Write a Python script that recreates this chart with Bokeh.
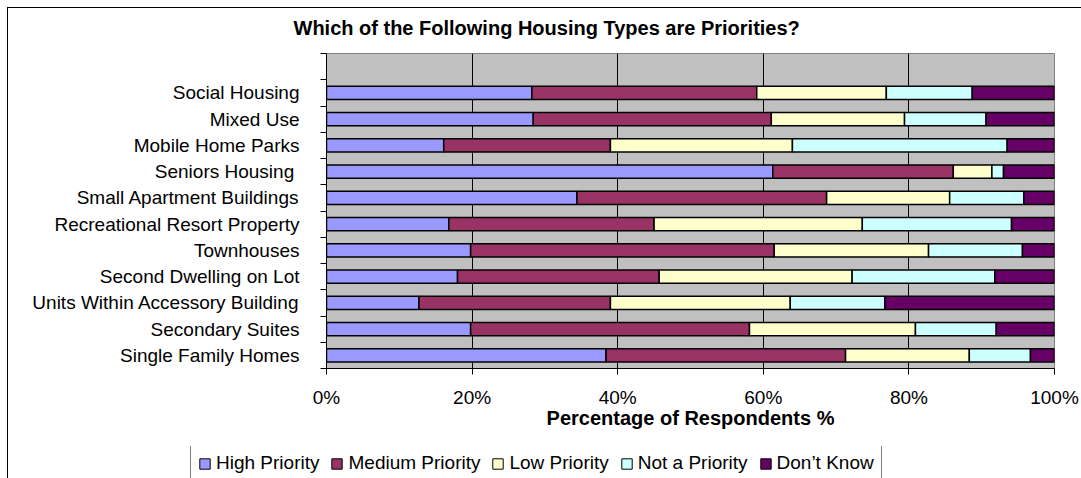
from bokeh.plotting import figure
from bokeh.models import (ColumnDataSource, Range1d, FixedTicker, Legend, Title,
                          LegendItem, PrintfTickFormatter, InlineStyleSheet)
from bokeh.embed import file_html
from bokeh.resources import INLINE

# ---- data (bottom to top) ----
categories = ["Single Family Homes", "Secondary Suites", "Units Within Accessory Building",
              "Second Dwelling on Lot", "Townhouses", "Recreational Resort Property",
              "Small Apartment Buildings", "Seniors Housing ", "Mobile Home Parks",
              "Mixed Use", "Social Housing"]
high_priority   = [38.4, 19.8, 12.7, 18.0, 19.8, 16.8, 34.4, 61.3, 16.1, 28.4, 28.2]
medium_priority = [32.9, 38.3, 26.3, 27.7, 41.7, 28.2, 34.3, 24.8, 22.9, 32.7, 30.9]
low_priority    = [17.0, 22.8, 24.7, 26.5, 21.2, 28.6, 16.9, 5.3, 25.0, 18.3, 17.8]
not_priority    = [8.4, 11.1, 13.0, 19.6, 12.9, 20.5, 10.2, 1.6, 29.5, 11.2, 11.8]
dont_know       = [3.3, 8.0, 23.3, 8.2, 4.4, 5.9, 4.2, 7.0, 6.5, 9.4, 11.3]
series_names = ["High Priority", "Medium Priority", "Low Priority", "Not a Priority", "Don\u2019t Know"]
series_keys = ["high", "medium", "low", "notp", "dk"]
colors = ["#9999FF", "#993366", "#FFFFCC", "#CCFFFF", "#660066"]
x_ticks = [0, 20, 40, 60, 80, 100]
title_text = "Which of the Following Housing Types are Priorities?"
x_title = "Percentage of Respondents %"

pos = list(range(len(categories)))
source = ColumnDataSource(dict(y=pos, high=high_priority, medium=medium_priority,
                               low=low_priority, notp=not_priority, dk=dont_know))

FONT = "Liberation Sans"

p = figure(frame_width=728, frame_height=315,
           x_range=Range1d(0, 100), y_range=Range1d(-0.5, len(categories) + 0.5),
           output_backend="svg", toolbar_location=None,
           min_border_left=326, min_border_right=27, min_border_top=53, min_border_bottom=78,
           background_fill_color="#C0C0C0", border_fill_color="white",
           outline_line_color="#808080", outline_line_width=1)
p.title.visible = False
p.stylesheets = [InlineStyleSheet(css=""":host::after { content: ''; position: absolute;
  left: 7px; top: 7px; width: 1200px; height: 600px; border: 1px solid black;
  pointer-events: none; box-sizing: border-box; z-index: 10; }""")]

renderers = p.hbar_stack(series_keys, y="y", height=0.5, source=source,
                         fill_color=colors, line_color="black", line_width=1.5)

# x axis
xa = p.xaxis[0]
xa.ticker = FixedTicker(ticks=x_ticks)
xa.formatter = PrintfTickFormatter(format="%d%%")
xa.axis_line_color = "black"
xa.major_tick_in = 0
xa.major_tick_out = 6
xa.minor_tick_out = 0
xa.minor_tick_in = 0
xa.major_label_text_font = FONT
xa.major_label_text_font_size = "19px"
xa.major_label_text_color = "black"
xa.major_label_standoff = 12
xa.axis_label = x_title
xa.axis_label_text_font = FONT
xa.axis_label_text_font_size = "20px"
xa.axis_label_text_font_style = "bold"
xa.axis_label_text_color = "black"
xa.axis_label_standoff = -4

# y axis
ya = p.yaxis[0]
ya.ticker = FixedTicker(ticks=pos, minor_ticks=[i - 0.5 for i in range(len(categories) + 2)])
ya.major_label_overrides = {i: c for i, c in zip(pos, categories)}
ya.axis_line_color = "black"
ya.major_tick_in = 0
ya.major_tick_out = 0
ya.minor_tick_in = 0
ya.minor_tick_out = 6
ya.minor_tick_line_color = "black"
ya.major_label_text_font = FONT
ya.major_label_text_font_size = "19px"
ya.major_label_text_color = "black"
ya.major_label_standoff = 21

p.xgrid.ticker = FixedTicker(ticks=x_ticks)
p.xgrid.grid_line_color = "black"
p.xgrid.grid_line_width = 1
p.ygrid.grid_line_color = None

# title
p.add_layout(Title(text=title_text, align="left", offset=-33, standoff=29,
                   text_font=FONT, text_font_size="20px", text_font_style="bold",
                   text_color="black"), "above")

# ---- legend strip (separate root so it is neither clipped nor frame-aligned) ----
lg = figure(width=1081, height=32, x_range=Range1d(0, 1), y_range=Range1d(100, 101),
            x_axis_type=None, y_axis_type=None, output_backend="svg", toolbar_location=None,
            min_border_left=0, min_border_right=0, min_border_top=0, min_border_bottom=0,
            background_fill_color="white", border_fill_color="white", outline_line_color=None)
lg.title.visible = False
lg.xgrid.visible = False
lg.ygrid.visible = False
legend_renderers = lg.hbar_stack(series_keys, y="y", height=0.5, source=source,
                                 fill_color=colors, line_color="black", line_width=1)

legend = Legend(items=[LegendItem(label=n, renderers=[r])
                       for n, r in zip(series_names, legend_renderers)],
                location=(190, -4), orientation="horizontal",
                label_text_font=FONT, label_text_font_size="19px", label_text_color="black",
                glyph_width=13, glyph_height=13, label_standoff=5, spacing=11,
                padding=7, margin=0, label_height=20,
                border_line_color="black", border_line_width=1,
                background_fill_color="white", background_fill_alpha=1)
lg.add_layout(legend)

open("out.html", "w").write(file_html([p, lg], INLINE))
